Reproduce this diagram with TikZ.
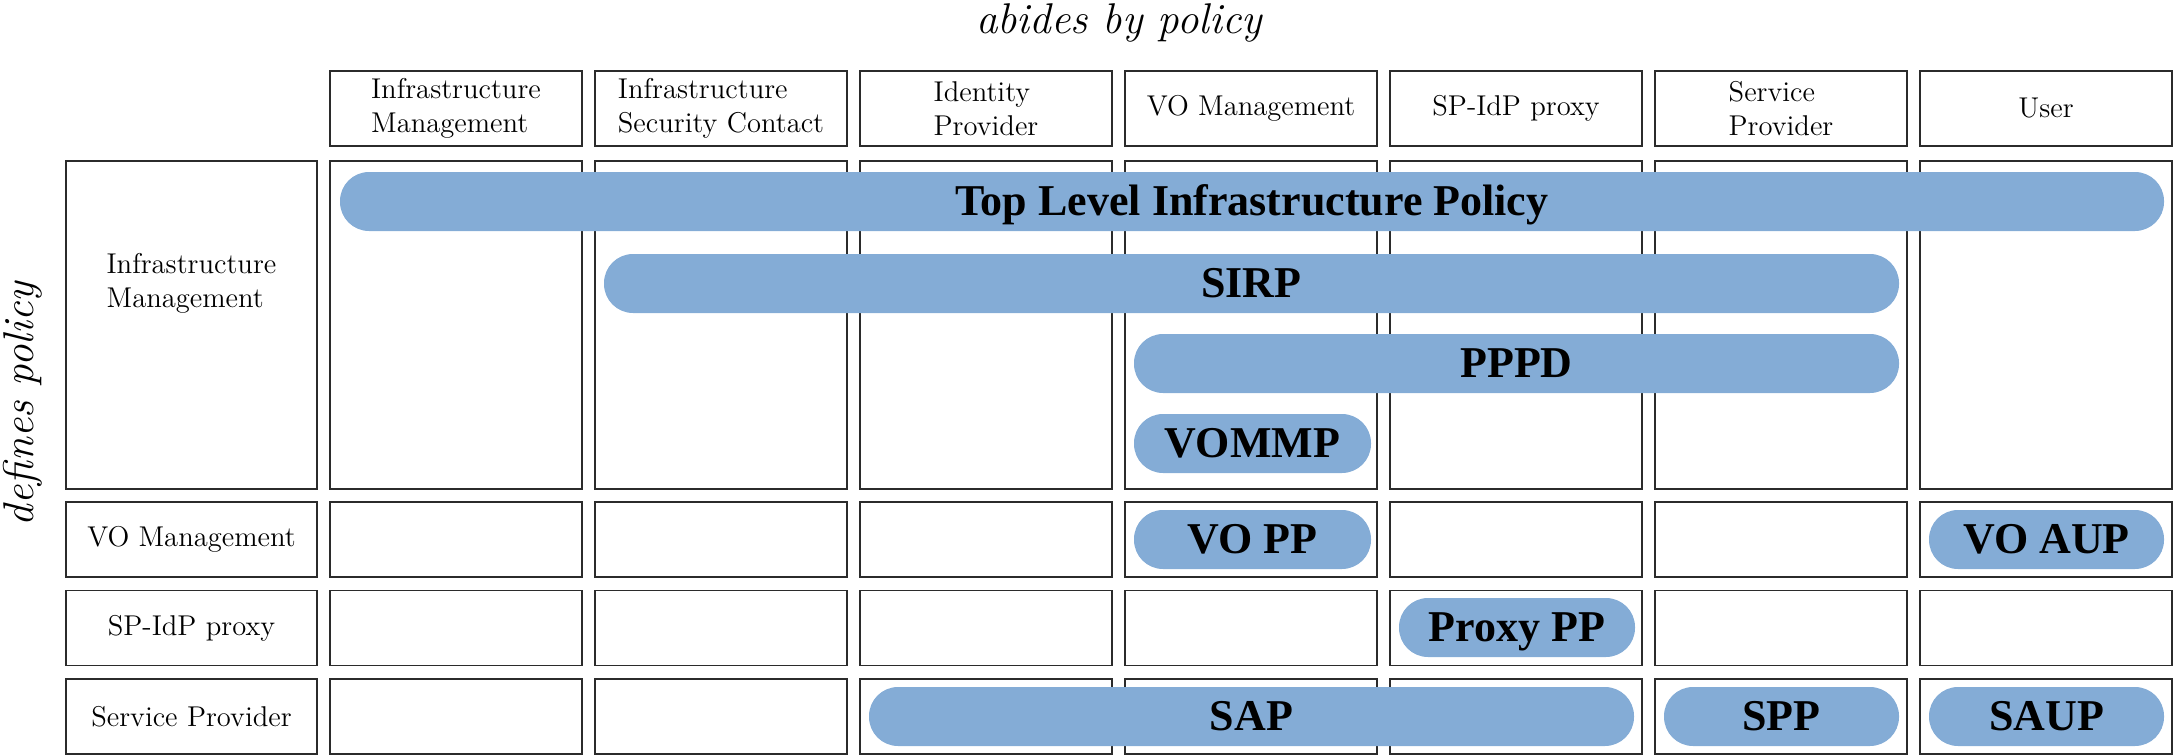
\documentclass[tikz,border=0pt]{standalone}
\usepackage{fontspec}
\usepackage{tikz}
\newfontfamily\pillfont{Liberation Serif}
\definecolor{pillblue}{HTML}{84ACD6}
\definecolor{gridline}{HTML}{2B2B2B}
\tikzset{
  cell/.style={draw=gridline,line width=0.75pt},
  pill/.style={fill=pillblue,rounded corners=14.5pt},
  lbl/.style={font=\fontsize{14.3}{17}\selectfont,align=left,inner sep=0pt},
  plbl/.style={font=\pillfont\bfseries\fontsize{22}{26}\selectfont,inner sep=0pt,anchor=base},
  axlbl/.style={font=\itshape\fontsize{21.5}{25}\selectfont,inner sep=0pt,anchor=base}
}

\begin{document}
\begin{tikzpicture}[x=0.5pt,y=-0.5pt]
\useasboundingbox (0,0) rectangle (2173,755);
% grid of cells
\foreach \i in {0,...,6} {
  \draw[cell] ({330+265*\i},71) rectangle ++(252,75);
  \draw[cell] ({330+265*\i},161) rectangle ++(252,328);
  \foreach \y in {502,590.5,679}
    \draw[cell] ({330+265*\i},\y) rectangle ++(252,75);
}
\draw[cell] (66,161) rectangle ++(251,328);
\foreach \y in {502,590.5,679}
  \draw[cell] (66,\y) rectangle ++(251,75);
% axis titles
\node[axlbl] (abides) at (1119,33) {abides by policy};
\node[axlbl,rotate=90] (defines) at (33,404) {defines policy};
% column heads
\foreach \t [count=\i from 0] in {{Infrastructure\\Management},{Infrastructure\\Security Contact},{Identity\\Provider},VO Management,SP-IdP proxy,{Service\\Provider},User}
  \node[lbl] (col\i) at ({456+265*\i},108.5) {\t};
% row heads
\node[lbl] (rowinfra) at (191.5,283) {Infrastructure\\Management};
\node[lbl] (rowvo) at (191.5,539.5) {VO Management};
\node[lbl] (rowproxy) at (191.5,628) {SP-IdP proxy};
\node[lbl] (rowsp) at (191.5,716.5) {Service Provider};
% policies
\foreach \xa/\xb/\ya/\n/\t in {
    340/2164/172/tlip/Top Level Infrastructure Policy,
    604/1899/254/sirp/SIRP,
    1134/1899/334/pppd/PPPD,
    1134/1371/414/vommp/VOMMP,
    1134/1371/510/vopp/VO PP,
    1929/2164/510/voaup/VO AUP,
    1399/1635/598/proxypp/Proxy PP,
    869/1634/687/sap/SAP,
    1664/1899/687/spp/SPP,
    1929/2164/687/saup/SAUP} {
  \fill[pill] (\xa,\ya) rectangle ({\xb},{\ya+59});
  \node[plbl] (\n) at ({(\xa+\xb)/2},{\ya+43}) {\t};
}
\end{tikzpicture}
\end{document}
